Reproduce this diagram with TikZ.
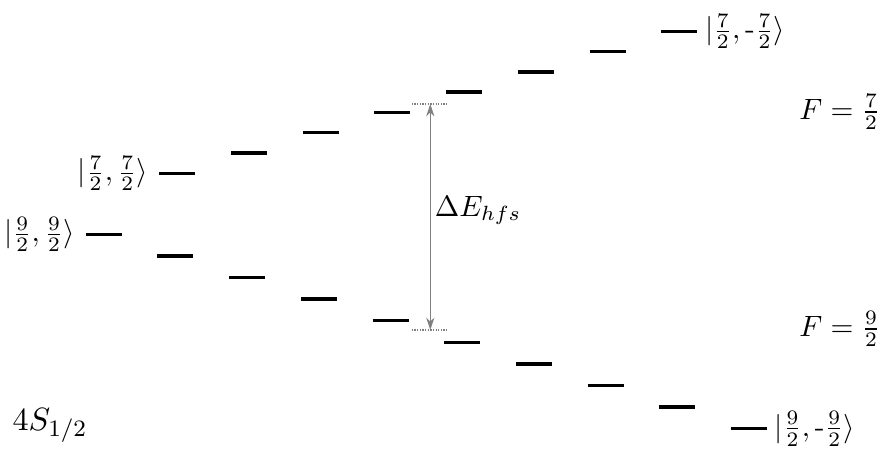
\documentclass[tikz,border=0pt]{standalone}
\usetikzlibrary{arrows.meta,calc}
\begin{document}
\begin{tikzpicture}[x=0.34pt,y=-0.34pt,
  lvl/.style={line width=1.15pt},
  ketl/.style={anchor=east,inner sep=3.5pt},
  ketr/.style={anchor=west,inner sep=2.5pt},
  flabel/.style={anchor=east,inner sep=1pt},
  gap/.style={draw=gray,line width=0.5pt,{Stealth[length=4.2pt,width=2.8pt]}-{Stealth[length=4.2pt,width=2.8pt]}},
  refline/.style={draw=gray,line width=0.4pt,dash pattern=on 0.45pt off 0.45pt}]
\useasboundingbox (0,0) rectangle (888,448);
% F = 9/2 manifold
\foreach \i in {0,...,9}{
  \coordinate (a\i) at ({85.7+71.7*\i},{234.3+21.6*\i});
  \coordinate (a\i e) at ({85.7+71.7*\i+36},{234.3+21.6*\i});
  \draw[lvl] (a\i) -- (a\i e);
}
% F = 7/2 manifold
\foreach \j in {0,...,7}{
  \coordinate (b\j) at ({159+71.75*\j},{173.3-20.28*\j});
  \coordinate (b\j e) at ({159+71.75*\j+36},{173.3-20.28*\j});
  \draw[lvl] (b\j) -- (b\j e);
}
\node[ketl] (k1) at (a0) {$|\frac{9}{2},\frac{9}{2}\rangle$};
\node[ketl] (k2) at (b0) {$|\frac{7}{2},\frac{7}{2}\rangle$};
\node[ketr] (k3) at (b7e) {$|\frac{7}{2},\mbox{-}\frac{7}{2}\rangle$};
\node[ketr] (k4) at (a9e) {$|\frac{9}{2},\mbox{-}\frac{9}{2}\rangle$};
% hyperfine splitting
\coordinate (tl) at (411.7,104);
\coordinate (tr) at (448.3,104);
\coordinate (bl) at (411.7,330);
\coordinate (br) at (448.3,330);
\coordinate (t) at (430.3,104);
\coordinate (b) at (430.3,330);
\draw[refline] (tl) -- (tr);
\draw[refline] (bl) -- (br);
\draw[gap] (t) -- (b);
\node[anchor=west,inner sep=1pt] (dE) at ($(t)!0.47!(b)+(1,0)$) {$\Delta E_{hfs}$};
\node[flabel] (F7) at (884,112) {$F=\frac{7}{2}$};
\node[flabel] (F9) at (884,329) {$F=\frac{9}{2}$};
\node[anchor=base west,inner sep=0pt] (S) at (12,430) {\fontsize{11.2}{13}\selectfont$4S_{1/2}$};
\end{tikzpicture}
\end{document}
